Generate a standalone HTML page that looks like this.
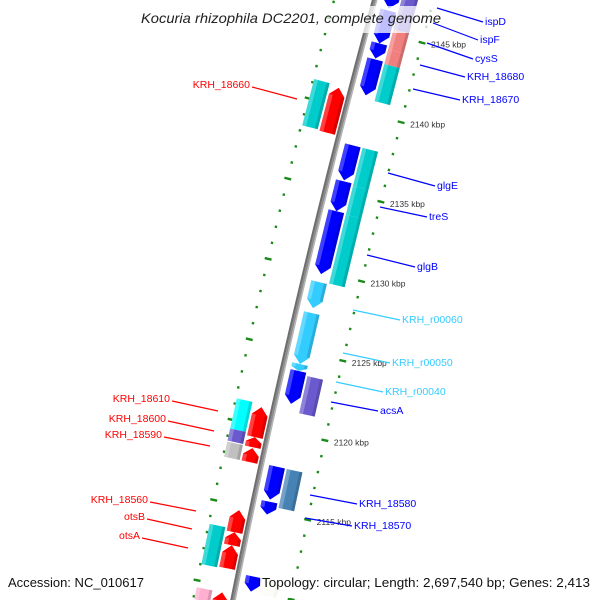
<!DOCTYPE html>
<html><head><meta charset="utf-8"><style>
html,body{margin:0;padding:0;background:#fff;width:600px;height:600px;overflow:hidden}
svg{display:block}
</style></head><body>
<svg id="chart" width="600" height="600" viewBox="0 0 600 600" xmlns="http://www.w3.org/2000/svg" font-family="Liberation Sans, sans-serif">
<defs>
<linearGradient id="g3d" x1="0" x2="1" y1="0" y2="0">
<stop offset="0" stop-color="#fff" stop-opacity="0.35"/>
<stop offset="0.3" stop-color="#fff" stop-opacity="0.15"/>
<stop offset="0.75" stop-color="#000" stop-opacity="0"/>
<stop offset="1" stop-color="#000" stop-opacity="0.25"/>
</linearGradient>
</defs>
<g id="track"></g>
<g id="overlay"></g>
<text x="141" y="23" font-size="14" font-style="italic" fill="#222" textLength="300" lengthAdjust="spacingAndGlyphs">Kocuria rhizophila DC2201, complete genome</text>
<text x="8" y="587" font-size="13" fill="#111" textLength="136" lengthAdjust="spacingAndGlyphs">Accession: NC_010617</text>
<text x="262" y="587" font-size="13" fill="#111" textLength="328" lengthAdjust="spacingAndGlyphs">Topology: circular; Length: 2,697,540 bp; Genes: 2,413</text>
</svg>
<script>
// ---- data ----
const geneStart = [2148.22,2146.35,2144.29,2143.29,2137.91,2135.66,2133.79,2129.35,2127.41,2124.22,2123.79,2117.79,2115.6,2110.91,
  2148.78,2145.34,2144.09,2143.16,2137.91,2135.53,2133.72,2123.6,2117.78,2110.97,
  2141.08,2121.14,2119.27,2118.58,2114.71,2113.33,2112.52,2109.58,
  2141.21,2121.33,2119.46,2118.64,2113.52,2109.58];
const geneEnd = [2146.48,2144.29,2143.35,2141.04,2135.72,2133.79,2129.85,2127.72,2124.22,2123.79,2121.73,2115.73,2114.8,2109.97,
  2145.34,2144.09,2143.16,2140.84,2135.53,2133.72,2129.41,2121.28,2115.34,2109.91,
  2138.27,2119.27,2118.64,2117.71,2113.33,2112.52,2111.08,2108.4,
  2138.33,2119.46,2118.71,2117.71,2111.02,2108.83];
const geneLane = [1,1,1,1,1,1,1,1,1,1,1,1,1,1, 2,2,2,2,2,2,2,2,2,2, -1,-1,-1,-1,-1,-1,-1,-1, -2,-2,-2,-2,-2,-2];
const geneArrow = [1,1,1,1,1,1,1,1,1,1,1,1,1,1, 0,0,0,0,0,0,0,0,0,0, -1,-1,-1,-1,-1,-1,-1,-1, 0,0,0,0,0,0];
const geneColor = ['#0000ff','#0000ff','#0000ff','#0000ff','#0000ff','#0000ff','#0000ff','#33ccff','#33ccff','#33ccff','#0000ff','#0000ff','#0000ff','#0000ff',
  '#6a5acd','#f08080','#f08080','#00cccc','#00cccc','#00cccc','#00cccc','#6a5acd','#4682b4','#f0eedc',
  '#ff0000','#ff0000','#ff0000','#ff0000','#ff0000','#ff0000','#ff0000','#ff0000',
  '#00cccc','#00ffff','#6a5acd','#c0c0c0','#00cccc','#ffb0d0'];
const tickKbp = [2145,2140,2135,2130,2125,2120,2115];
const tickLabels = ['2145 kbp','2140 kbp','2135 kbp','2130 kbp','2125 kbp','2120 kbp','2115 kbp'];
const labelText = ['ispD','ispF','cysS','KRH_18680','KRH_18670','glgE','treS','glgB','KRH_r00060','KRH_r00050','KRH_r00040','acsA','KRH_18580','KRH_18570',
  'KRH_18660','KRH_18610','KRH_18600','KRH_18590','KRH_18560','otsB','otsA'];
const labelColor = ['#0000ff','#0000ff','#0000ff','#0000ff','#0000ff','#0000ff','#0000ff','#0000ff','#33ccff','#33ccff','#33ccff','#0000ff','#0000ff','#0000ff',
  '#ff0000','#ff0000','#ff0000','#ff0000','#ff0000','#ff0000','#ff0000'];
const labelLine = [[437,8,483,22],[433,23,478,40],[427,43,473,59],[420,65,465,77],[413,89,460,100],[388,173,435,186],[380,207,427,217],[367,255,415,267],[353,310,400,320],[343,353,390,363],[336,382,383,392],[331,402,378,411],[310,495,357,504],[305,518,352,526],
  [252,87,297,99],[172,401,218,411],[168,421,214,431],[164,437,210,446],[150,502,196,511],[147,519,192,529],[142,538,188,548]];
// ---- geometry (slightly curved backbone) ----
function ybOf(k){return 28+(2145-k)*16;}
function P(k,u){
  const y=ybOf(k);
  const xb=374.5-0.271*y+5.83e-5*y*y;
  const t=0.271-1.166e-4*y, c=1/Math.sqrt(1+t*t), s=t*c;
  return [xb+u*c, y+u*s];
}
const laneU={1:[8,24],2:[26,42],'-1':[-20,-4],'-2':[-38,-22]};
const NS='http://www.w3.org/2000/svg';
const track=document.getElementById('track'), ov=document.getElementById('overlay');
function mk(tag,attrs,parent){const e=document.createElementNS(NS,tag);for(const k in attrs)e.setAttribute(k,attrs[k]);parent.appendChild(e);return e;}
function pl(arr){return arr.map(q=>{const p=P(q[0],q[1]);return p[0].toFixed(2)+','+p[1].toFixed(2);}).join(' ');}
// dots rings
for(let k=2108;k<=2149;k++){
  [57,-39].forEach(u=>{
    const big=(k%5===0), d=big?3.5:1.2;
    const a=P(k,u-d), b=P(k,u+d);
    const l=mk('line',{x1:a[0],y1:a[1],x2:b[0],y2:b[1],stroke:'#1a8a1a','stroke-width':2.4},track);
    
    
  });
}
// backbone
[[-1.5,'#6e6e6e',2.2],[0.5,'#8c8c8c',2],[2.2,'#b4b4b4',1.4]].forEach(s=>{
  const pts=[];for(let k=2150;k>=2106;k-=0.5)pts.push([k,s[0]]);
  const b=mk('polyline',{points:pl(pts),fill:'none',stroke:s[1],'stroke-width':s[2]},track);
  
  
});
// genes
for(let i=0;i<geneStart.length;i++){
  const k0=geneStart[i], k1=geneEnd[i];
  const [u0,u1]=laneU[geneLane[i]], um=(u0+u1)/2;
  const h=Math.min(0.5,(k0-k1)*0.5);
  let pts;
  if(geneArrow[i]===1) pts=[[k0,u0],[k0,u1],[k1+h,u1],[k1,um],[k1+h,u0]];
  else if(geneArrow[i]===-1) pts=[[k0,um],[k0-h,u1],[k1,u1],[k1,u0],[k0-h,u0]];
  else pts=[[k0,u0],[k0,u1],[k1,u1],[k1,u0]];
  const p=pl(pts);
  const g=mk('g',{},track);
  
  
  mk('polygon',{points:p,fill:geneColor[i]},g);
  // highlight stripe on the left third
  const hs=[[k0-(geneArrow[i]===-1?h:0),u0],[k0-(geneArrow[i]===-1?h:0),u0+4],[k1+(geneArrow[i]===1?h:0),u0+4],[k1+(geneArrow[i]===1?h:0),u0]];
  mk('polygon',{points:pl(hs),fill:'#fff','fill-opacity':0.25},g);
  const ds=[[k0-(geneArrow[i]===-1?h:0),u1-3],[k0-(geneArrow[i]===-1?h:0),u1],[k1+(geneArrow[i]===1?h:0),u1],[k1+(geneArrow[i]===1?h:0),u1-3]];
  mk('polygon',{points:pl(ds),fill:'#000','fill-opacity':0.15},g);
}
// tick labels
for(let i=0;i<tickKbp.length;i++){
  const [x,y]=P(tickKbp[i],57);
  const t=mk('text',{x:x+9,y:y+5,'font-size':'8.5',fill:'#333'},ov);
  t.textContent=tickLabels[i];
  
  
}
// overlays
const tb=mk('rect',{x:136,y:6,width:310,height:27,fill:'#fff','fill-opacity':0.75},ov);


const bb2=mk('rect',{x:260,y:572,width:336,height:26,fill:'#fff','fill-opacity':0.8},ov);


// labels
for(let i=0;i<labelText.length;i++){
  const L=labelLine[i], right=labelColor[i]!=='#ff0000';
  const ln=mk('line',{x1:L[0],y1:L[1],x2:L[2],y2:L[3],stroke:labelColor[i],'stroke-width':1.2},ov);
  
  
  const t=mk('text',{'font-size':'10.5',fill:labelColor[i],'dominant-baseline':'central'},ov);
  if(right){t.setAttribute('x',L[2]+2);t.setAttribute('y',L[3]);}
  else{t.setAttribute('x',L[0]-2);t.setAttribute('y',L[1]-2);t.setAttribute('text-anchor','end');}
  t.textContent=labelText[i];
  
  
}
</script>
</body></html>
